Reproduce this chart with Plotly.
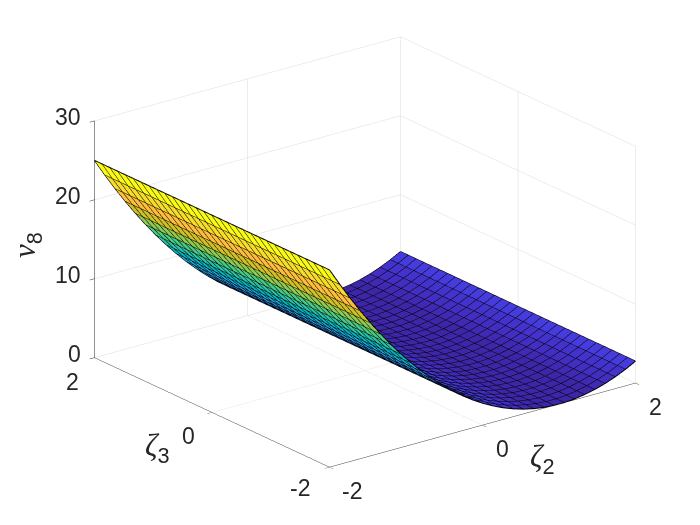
import plotly.graph_objects as go

# --- data ---
zeta2 = [-2 + 4 * k / 30 for k in range(31)]
zeta3 = [-2 + 4 * k / 30 for k in range(31)]
nu8_profile = [25.0, 22.83, 20.75, 18.78, 16.90, 15.12, 13.44, 11.86, 10.38, 9.0, 7.72,
               6.53, 5.44, 4.46, 3.57, 2.78, 2.09, 1.49, 1.0, 0.60, 0.31, 0.11, 0.01,
               0.01, 0.11, 0.31, 0.60, 1.0, 1.49, 2.09, 2.78]
zeta2_ticks = [-2, 0, 2]
zeta3_ticks = [-2, 0, 2]
nu8_ticks = [0, 10, 20, 30]

parula = [[0.2422,0.1504,0.6603],[0.2504,0.1650,0.7076],[0.2578,0.1818,0.7511],[0.2647,0.1978,0.7952],
[0.2706,0.2147,0.8364],[0.2751,0.2342,0.8710],[0.2783,0.2559,0.8991],[0.2803,0.2782,0.9221],
[0.2813,0.3006,0.9414],[0.2810,0.3228,0.9579],[0.2795,0.3447,0.9717],[0.2760,0.3667,0.9829],
[0.2699,0.3892,0.9906],[0.2602,0.4123,0.9952],[0.2440,0.4358,0.9988],[0.2206,0.4603,0.9973],
[0.1963,0.4847,0.9892],[0.1834,0.5074,0.9798],[0.1786,0.5289,0.9682],[0.1764,0.5499,0.9520],
[0.1687,0.5703,0.9359],[0.1540,0.5902,0.9218],[0.1460,0.6091,0.9079],[0.1380,0.6276,0.8973],
[0.1248,0.6459,0.8883],[0.1113,0.6635,0.8763],[0.0952,0.6798,0.8598],[0.0689,0.6948,0.8394],
[0.0297,0.7082,0.8163],[0.0036,0.7203,0.7917],[0.0067,0.7312,0.7660],[0.0433,0.7411,0.7394],
[0.0964,0.7500,0.7120],[0.1408,0.7584,0.6842],[0.1717,0.7670,0.6554],[0.1938,0.7758,0.6251],
[0.2161,0.7843,0.5923],[0.2470,0.7918,0.5567],[0.2906,0.7973,0.5188],[0.3406,0.8008,0.4789],
[0.3909,0.8029,0.4354],[0.4456,0.8024,0.3909],[0.5044,0.7993,0.3480],[0.5616,0.7942,0.3045],
[0.6174,0.7876,0.2612],[0.6720,0.7793,0.2227],[0.7242,0.7698,0.1910],[0.7738,0.7598,0.1646],
[0.8203,0.7498,0.1535],[0.8634,0.7406,0.1596],[0.9035,0.7330,0.1774],[0.9393,0.7288,0.2100],
[0.9728,0.7298,0.2394],[0.9956,0.7434,0.2371],[0.9970,0.7659,0.2199],[0.9952,0.7893,0.2028],
[0.9892,0.8136,0.1885],[0.9786,0.8386,0.1766],[0.9676,0.8639,0.1643],[0.9610,0.8890,0.1537],
[0.9597,0.9135,0.1423],[0.9628,0.9373,0.1265],[0.9691,0.9606,0.1064],[0.9769,0.9839,0.0805]]

TEXT = "#262626"
n2, n3 = len(zeta2), len(zeta3)
zmin, zmax = min(nu8_profile), max(nu8_profile)

def colour(v):
    idx = min(63, int((v - zmin) / (zmax - zmin) * 64))
    r, g, b = parula[idx]
    return f"rgb({round(r*255)},{round(g*255)},{round(b*255)})"

# faceted surface: one flat colour per cell, as MATLAB's surf does
vx, vy, vz, I, J, K, fc = [], [], [], [], [], [], []
for a in range(n2):
    for b in range(n3):
        vx.append(zeta2[a]); vy.append(zeta3[b]); vz.append(nu8_profile[a])
for a in range(n2 - 1):
    for b in range(n3 - 1):
        p, q, r, s = a*n3+b, (a+1)*n3+b, (a+1)*n3+b+1, a*n3+b+1
        I += [p, p]; J += [q, r]; K += [r, s]
        c = colour(nu8_profile[a])
        fc += [c, c]

# wire lines
lx, ly, lz = [], [], []
for a in range(n2):
    for b in range(n3):
        lx.append(zeta2[a]); ly.append(zeta3[b]); lz.append(nu8_profile[a])
    lx.append(None); ly.append(None); lz.append(None)
for b in range(n3):
    for a in range(n2):
        lx.append(zeta2[a]); ly.append(zeta3[b]); lz.append(nu8_profile[a])
    lx.append(None); ly.append(None); lz.append(None)

fig = go.Figure()
fig.add_trace(go.Mesh3d(x=vx, y=vy, z=vz, i=I, j=J, k=K, facecolor=fc, flatshading=True,
                        lighting=dict(ambient=1, diffuse=0, specular=0, roughness=1, fresnel=0),
                        hoverinfo="skip", showscale=False))
fig.add_trace(go.Scatter3d(x=lx, y=ly, z=lz, mode="lines", line=dict(color="#000000", width=2),
                           hoverinfo="skip", showlegend=False))

def tick(text, x, y, z, dx, dy, xanchor="center"):
    return dict(x=x, y=y, z=z, text=text, showarrow=False, xshift=dx, yshift=dy, xanchor=xanchor,
                yanchor="middle", font=dict(family="Liberation Sans", size=23, color=TEXT))

ann3d = []
for t in zeta2_ticks:
    ann3d.append(tick(str(t), t, -2, 0, 23 if t < 0 else 20, -24))
for t in zeta3_ticks:
    ann3d.append(tick(str(t), -2, t, 0, -29 if t < 0 else (-22 if t > 0 else -23), -21 if t < 0 else -24))
for t in nu8_ticks:
    ann3d.append(tick(str(t), -2, 2, t, -11, 4, "right"))

def axis(vals, rng, linecolor="#404040"):
    return dict(range=rng, tickmode="array", tickvals=vals, showticklabels=False, title=dict(text=""),
                showbackground=False, showgrid=True, gridcolor="#dcdcdc", gridwidth=1,
                zeroline=False, showline=True, linecolor=linecolor, linewidth=1,
                ticks="outside", ticklen=6, tickcolor=linecolor, showspikes=False)

zs = '<span style="font-family:\'Liberation Serif\';font-style:italic">%s</span><sub>%s</sub>'
titles = [
    dict(x=534/700, y=1-451/525, text=zs % ("ζ", "2"), textangle=0),
    dict(x=149/700, y=1-440/525, text=zs % ("ζ", "3"), textangle=0),
    dict(x=19/700, y=1-237/525, text=zs % ("ν", "8"), textangle=-90),
]
for a in titles:
    a.update(xref="paper", yref="paper", showarrow=False, xanchor="center", yanchor="middle",
             font=dict(family="Liberation Sans", size=31, color=TEXT))

L = 1.25
S = 1.487
CZ = -0.064
fig.update_layout(
    width=700, height=525, margin=dict(l=0, r=0, t=0, b=0), paper_bgcolor="white",
    showlegend=False, annotations=titles,
    scene=dict(
        domain=dict(x=[14/700, 1], y=[6/525, 1]),
        xaxis=axis(zeta2_ticks, [-2, 2]), yaxis=axis(zeta3_ticks, [-2, 2]),
        zaxis=axis(nu8_ticks, [0, 30], "#262626"),
        aspectmode="manual", aspectratio=dict(x=S, y=S, z=0.657*S),
        camera=dict(projection=dict(type="orthographic"),
                    center=dict(x=0, y=0, z=CZ), up=dict(x=0, y=0, z=1),
                    eye=dict(x=-0.569*L, y=-0.741*L, z=0.358*L+CZ)),
        annotations=ann3d,
    ),
)
fig.write_html("out.html")
